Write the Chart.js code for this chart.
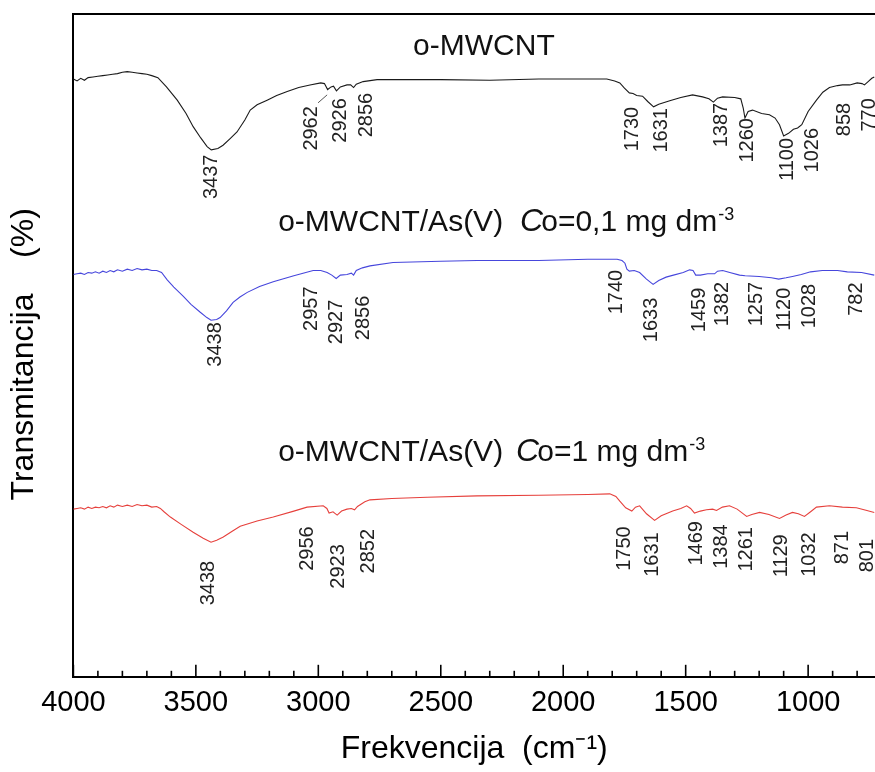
<!DOCTYPE html>
<html>
<head>
<meta charset="utf-8">
<script src="https://cdn.jsdelivr.net/npm/chart.js@4.4.0/dist/chart.umd.min.js"></script>
<style>
  html, body { margin: 0; padding: 0; background: #fff; }
  #wrap { width: 875px; height: 772px; position: relative; }
</style>
</head>
<body>
<div id="wrap"><canvas id="ftir"></canvas></div>
<script>
"use strict";

// ── Spectra (wavenumber cm-1 / relative transmittance) ──
const blackWn = [4000,3985,3970,3955,3940,3920,3900,3880,3860,3840,3820,3800,3780,3760,3740,3720,3700,3680,3655,3620,3576,3540,3511,3480,3454,3437,3410,3389,3360,3332,3300,3278,3250,3209,3170,3127,3080,3034,2990,2975,2962,2948,2938,2926,2910,2883,2868,2856,2845,2817,2760,2500,2300,2100,1900,1822,1790,1769,1750,1730,1715,1700,1676,1655,1631,1610,1565,1520,1472,1431,1405,1387,1370,1349,1300,1275,1265,1258,1245,1227,1190,1158,1135,1117,1100,1080,1060,1043,1026,1000,966,940,913,880,860,830,800,780,770,755,740,730];
const blackT  = [90.2,89.9,90.3,90.0,90.4,90.5,90.6,90.7,90.8,90.9,91.0,91.2,91.3,91.2,91.1,91.0,90.9,90.7,90.4,89.0,87.0,85.0,83.0,81.3,80.0,79.5,79.7,80.2,81.2,82.2,84.0,85.5,86.3,87.0,87.7,88.3,88.9,89.3,89.6,89.5,88.6,89.0,89.1,88.4,89.0,89.3,89.3,88.9,89.4,89.8,90.1,90.1,90.0,90.2,90.2,90.2,89.9,89.6,88.8,88.1,88.0,87.7,87.6,86.8,86.0,86.4,86.9,87.4,87.8,87.5,87.2,86.7,87.3,87.5,87.4,87.2,85.8,84.3,85.3,85.5,85.0,84.8,84.3,83.3,81.6,82.0,82.6,82.8,83.3,85.3,87.0,88.2,88.9,89.2,89.3,89.3,89.6,89.5,89.3,89.8,90.3,90.5];

const blueWn = [4000,3985,3970,3955,3940,3925,3910,3895,3880,3865,3850,3835,3820,3800,3780,3760,3740,3720,3700,3680,3660,3640,3617,3590,3551,3520,3482,3455,3438,3415,3401,3375,3348,3320,3290,3240,3184,3100,3021,2990,2964,2945,2927,2910,2883,2865,2856,2845,2820,2789,2695,2500,2352,2100,1900,1780,1760,1748,1740,1730,1710,1688,1660,1633,1610,1580,1550,1510,1484,1470,1459,1440,1410,1382,1370,1349,1320,1280,1257,1200,1150,1120,1090,1064,1028,990,942,880,840,782,730];
const blueT  = [60.7,60.8,60.9,60.7,61.0,60.9,61.1,60.9,61.2,61.0,61.3,61.1,61.4,61.2,61.5,61.3,61.6,61.4,61.5,61.3,61.3,61.0,59.9,58.8,57.4,56.2,55.0,54.2,53.8,53.9,54.2,55.2,56.5,57.3,58.0,58.9,59.6,60.5,61.3,61.3,61.0,60.6,60.1,60.6,60.7,60.9,60.6,61.3,61.7,62.0,62.5,62.7,62.8,62.8,63.0,63.0,62.8,62.4,61.5,61.2,61.3,61.0,60.0,59.2,59.8,60.3,60.6,61.0,61.4,61.3,60.6,60.6,60.8,60.8,61.2,61.3,61.0,60.6,60.5,60.4,60.2,60.0,60.2,60.4,60.7,61.1,61.3,61.3,61.1,61.0,60.6];

const redWn = [4000,3985,3970,3955,3940,3925,3910,3895,3880,3865,3850,3835,3820,3800,3780,3760,3740,3720,3700,3680,3660,3645,3630,3604,3560,3511,3470,3438,3415,3388,3350,3319,3250,3184,3100,3046,2980,2965,2956,2940,2923,2905,2883,2865,2852,2840,2810,2789,2700,2556,2352,2100,1900,1810,1785,1769,1745,1720,1705,1688,1660,1627,1600,1553,1520,1496,1480,1464,1440,1415,1390,1374,1350,1321,1290,1251,1230,1198,1160,1117,1090,1064,1040,1015,990,966,913,860,803,760,730];
const redT  = [25.3,25.4,25.5,25.3,25.6,25.4,25.6,25.5,25.7,25.5,25.8,25.6,25.9,25.7,25.9,25.7,26.0,25.8,25.9,25.6,25.7,25.4,24.9,24.1,23.0,21.8,20.9,20.3,20.6,21.1,22.0,22.7,23.5,24.1,25.0,25.6,25.8,25.4,24.7,24.9,24.4,25.0,25.3,25.4,25.2,25.7,26.4,26.7,26.9,27.1,27.3,27.4,27.5,27.6,27.2,26.5,25.5,25.0,25.6,25.8,24.6,23.6,24.3,25.0,25.4,25.8,25.4,24.7,25.0,25.2,25.3,25.1,25.6,25.8,25.3,24.2,24.5,24.8,24.5,23.9,24.4,24.8,24.6,24.2,24.9,25.6,25.8,25.6,25.5,25.1,24.8];

// x axis labels
const xTicks = [4000, 3500, 3000, 2500, 2000, 1500, 1000];

// ── Peak annotations (band positions written on the figure) ──────────────────
const blackPeaks = [3437, 2962, 2926, 2856, 1730, 1631, 1387, 1260, 1100, 1026, 858, 770];
const bluePeaks  = [3438, 2957, 2927, 2856, 1740, 1633, 1459, 1382, 1257, 1120, 1028, 782];
const redPeaks   = [3438, 2956, 2923, 2852, 1750, 1631, 1469, 1384, 1261, 1129, 1032, 871, 801];

// where each label sits (x in cm-1, top end in y units) — layout only
const blackLabelX   = [3437, 3029, 2911, 2805, 1716, 1598, 1353, 1247, 1084, 982, 852, 750];
const blackLabelTop = [78.8, 86.1, 87.3, 88.1, 86.0, 85.8, 86.6, 84.3, 81.3, 82.8, 86.6, 87.3];
const blueLabelX    = [3421, 3029, 2927, 2817, 1782, 1639, 1443, 1349, 1211, 1096, 994, 803];
const blueLabelTop  = [53.5, 58.9, 56.9, 57.5, 61.4, 57.2, 58.7, 59.6, 59.6, 58.7, 59.3, 59.5];
const redLabelX     = [3449, 3046, 2919, 2797, 1749, 1635, 1455, 1353, 1251, 1109, 994, 860, 758];
const redLabelTop   = [17.5, 22.7, 20.0, 22.3, 22.7, 21.8, 23.5, 23.0, 22.6, 21.5, 21.8, 22.0, 20.8];

const FONT = '"Liberation Sans", Arial, sans-serif';
const CLR = {
  black: "#1a1a1a",
  blue:  "#4646dc",
  red:   "#e6403c",
  text:  "#111",
};

function toPoints(xs, ys) {
  return xs.map((v, i) => ({ x: v, y: ys[i] }));
}

// ── helpers for the annotation plugin ─────────────────────────────────────────
function drawRich(ctx, x0, y0, parts) {
  let x = x0;
  ctx.textAlign = "left";
  ctx.textBaseline = "alphabetic";
  for (const p of parts) {
    ctx.font = p.font;
    x += p.gap || 0;
    ctx.fillText(p.t, x, y0 + (p.dy || 0));
    x += ctx.measureText(p.t).width;
  }
}

function drawPeakLabels(ctx, xs, ys, names, atX, atTop) {
  ctx.font = "20px " + FONT;
  ctx.fillStyle = "#222";
  ctx.textAlign = "right";
  ctx.textBaseline = "middle";
  names.forEach((n, i) => {
    ctx.save();
    ctx.translate(xs.getPixelForValue(atX[i]), ys.getPixelForValue(atTop[i]));
    ctx.rotate(-Math.PI / 2);
    ctx.fillText(String(n), 0, 0);
    ctx.restore();
  });
}

const annotations = {
  id: "annotations",
  afterDraw(chart) {
    const { ctx, chartArea: a, scales: { x, y } } = chart;
    ctx.save();

    // frame top line
    ctx.strokeStyle = "#000";
    ctx.lineWidth = 2;
    ctx.beginPath();
    ctx.moveTo(a.left - 1, a.top);
    ctx.lineTo(a.right, a.top);
    ctx.stroke();

    // inward tick marks (major every 500, minor every 100)
    ctx.lineWidth = 1.6;
    for (let v = 800; v <= 4000; v += 100) {
      const px = x.getPixelForValue(v);
      const len = v % 500 === 0 ? 12 : 6;
      ctx.beginPath();
      ctx.moveTo(px, a.bottom);
      ctx.lineTo(px, a.bottom - len);
      ctx.stroke();
    }

    // spectrum captions
    ctx.fillStyle = CLR.text;
    const main = "30px " + FONT;
    const ital = "italic 32px " + FONT;
    const sup = "18px " + FONT;
    drawRich(ctx, x.getPixelForValue(2613), y.getPixelForValue(93.8), [{ t: "o-MWCNT", font: main }]);
    drawRich(ctx, x.getPixelForValue(3164), y.getPixelForValue(67.2), [
      { t: "o-MWCNT/As(V)", font: main },
      { t: "C", font: ital, gap: 17 },
      { t: "o=0,1 mg dm", font: main, gap: -2 },
      { t: "-3", font: sup, dy: -11, gap: 1 },
    ]);
    drawRich(ctx, x.getPixelForValue(3164), y.getPixelForValue(32.5), [
      { t: "o-MWCNT/As(V)", font: main },
      { t: "C", font: ital, gap: 13 },
      { t: "o=1 mg dm", font: main, gap: -2 },
      { t: "-3", font: sup, dy: -11, gap: 1 },
    ]);

    // band labels
    drawPeakLabels(ctx, x, y, blackPeaks, blackLabelX, blackLabelTop);
    drawPeakLabels(ctx, x, y, bluePeaks, blueLabelX, blueLabelTop);
    drawPeakLabels(ctx, x, y, redPeaks, redLabelX, redLabelTop);

    // leader line for the 2962 band
    ctx.strokeStyle = "#555";
    ctx.lineWidth = 1;
    ctx.beginPath();
    ctx.moveTo(x.getPixelForValue(3001), y.getPixelForValue(86.6));
    ctx.lineTo(x.getPixelForValue(2964), y.getPixelForValue(87.8));
    ctx.stroke();

    ctx.restore();
  },
};

function lineSet(label, xs, ys, color) {
  return {
    label,
    data: toPoints(xs, ys),
    borderColor: color,
    borderWidth: 1.1,
    pointRadius: 0,
    showLine: true,
    tension: 0,
    fill: false,
  };
}

new Chart(document.getElementById("ftir"), {
  type: "scatter",
  data: {
    datasets: [
      lineSet("o-MWCNT", blackWn, blackT, CLR.black),
      lineSet("o-MWCNT/As(V) 0,1", blueWn, blueT, CLR.blue),
      lineSet("o-MWCNT/As(V) 1", redWn, redT, CLR.red),
    ],
  },
  options: {
    responsive: true,
    maintainAspectRatio: false,
    animation: false,
    layout: { padding: { left: 5, top: 14, right: 0, bottom: 0 } },
    plugins: {
      legend: { display: false },
      tooltip: { enabled: false },
    },
    scales: {
      x: {
        type: "linear",
        reverse: true,
        min: 727,
        max: 4000,
        afterBuildTicks: (scale) => { scale.ticks = xTicks.map(v => ({ value: v })); },
        grid: { drawOnChartArea: false, drawTicks: false },
        border: { display: true, color: "#000", width: 2 },
        ticks: {
          padding: 9,
          color: "#000",
          font: { family: FONT, size: 29 },
          maxRotation: 0,
          autoSkip: false,
          callback: (value) => String(value),
        },
        title: {
          display: true,
          text: "Frekvencija  (cm\u207B\u00B9)",
          color: "#000",
          font: { family: FONT, size: 32 },
          padding: { top: 0, bottom: 4 },
        },
      },
      y: {
        min: 0,
        max: 100,
        grid: { drawOnChartArea: false, drawTicks: false },
        border: { display: true, color: "#000", width: 2 },
        ticks: { display: false },
        title: {
          display: true,
          text: "Transmitancija    (%)  ",
          color: "#000",
          font: { family: FONT, size: 32 },
          padding: { top: 0, bottom: 30 },
        },
      },
    },
  },
  plugins: [annotations],
});
</script>
</body>
</html>
